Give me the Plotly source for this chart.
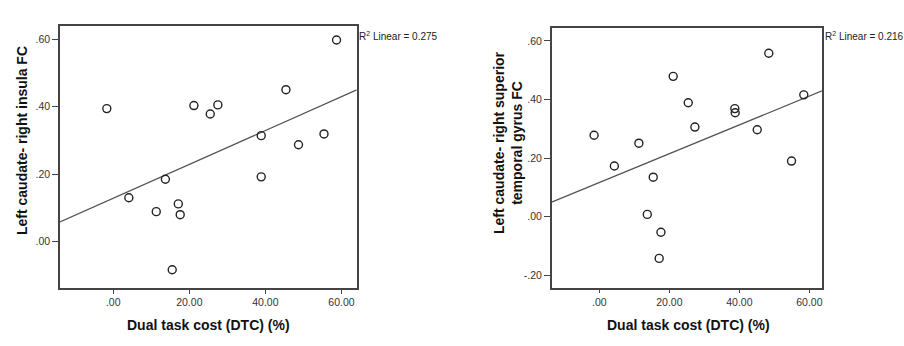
import numpy as np
import plotly.graph_objects as go

# Data
dtc_left = [-1.7, 4.1, 11.3, 13.7, 15.5, 17.1, 17.6, 21.2, 25.5, 27.5, 38.9, 38.9, 45.4, 48.7, 55.4, 58.7]
insula_fc = [0.394, 0.130, 0.089, 0.185, -0.083, 0.112, 0.080, 0.403, 0.378, 0.405, 0.314, 0.192, 0.450, 0.287, 0.319, 0.597]

dtc_right = [-1.5, 4.3, 11.3, 13.7, 15.4, 17.1, 17.6, 21.1, 25.4, 27.3, 38.7, 38.8, 45.1, 48.4, 54.9, 58.4]
stg_fc = [0.278, 0.173, 0.251, 0.008, 0.135, -0.142, -0.053, 0.479, 0.389, 0.306, 0.369, 0.355, 0.297, 0.558, 0.190, 0.416]

x_tickvals = [0, 20, 40, 60]
x_ticktext = [".00", "20.00", "40.00", "60.00"]
yl_tickvals = [0, 0.2, 0.4, 0.6]
yl_ticktext = [".00", ".20", ".40", ".60"]
yr_tickvals = [-0.2, 0, 0.2, 0.4, 0.6]
yr_ticktext = ["-.20", ".00", ".20", ".40", ".60"]

r2_left = "R<sup>2</sup> Linear = 0.275"
r2_right = "R<sup>2</sup> Linear = 0.216"
x_title = "Dual task cost (DTC) (%)"
yl_title = "Left caudate- right insula FC"
yr_title = "Left caudate- right superior<br>temporal gyrus FC"

xl_range = [-14, 64]
xr_range = [-13.6, 63.6]

W, H = 904, 346
FONT = "Liberation Sans, Arial, sans-serif"

fig = go.Figure()

def add_panel(x, y, xa, ya, xrange):
    slope, intercept = np.polyfit(x, y, 1)
    lx = np.array(xrange, dtype=float)
    fig.add_trace(go.Scatter(x=lx, y=slope * lx + intercept, mode="lines",
                             line=dict(color="#555555", width=1.3),
                             xaxis=xa, yaxis=ya, showlegend=False, hoverinfo="skip"))
    fig.add_trace(go.Scatter(x=x, y=y, mode="markers",
                             marker=dict(symbol="circle-open", size=8,
                                         color="#222222", line=dict(width=1.4, color="#222222")),
                             xaxis=xa, yaxis=ya, showlegend=False))

add_panel(dtc_left, insula_fc, "x", "y", xl_range)
add_panel(dtc_right, stg_fc, "x2", "y2", xr_range)

axis_common = dict(showline=True, linecolor="#444444", linewidth=1.5, mirror=True,
                   showgrid=False, zeroline=False, ticks="outside", tickcolor="#444444",
                   tickwidth=1.2, tickfont=dict(family=FONT, size=10.5, color="#333333"))

fig.update_layout(
    width=W, height=H,
    margin=dict(l=0, r=0, t=0, b=0),
    paper_bgcolor="white", plot_bgcolor="white",
    xaxis=dict(domain=[60 / W, 356.7 / W], range=xl_range, anchor="y",
               tickvals=x_tickvals, ticktext=x_ticktext, ticklen=4, **axis_common),
    yaxis=dict(domain=[1 - 288 / H, 1 - 26 / H], range=[-0.137, 0.6385], anchor="x",
               tickvals=yl_tickvals, ticktext=yl_ticktext, ticklen=6, **axis_common),
    xaxis2=dict(domain=[551.7 / W, 822 / W], range=xr_range, anchor="y2",
                tickvals=x_tickvals, ticktext=x_ticktext, ticklen=4, **axis_common),
    yaxis2=dict(domain=[1 - 287.7 / H, 1 - 27.7 / H], range=[-0.242, 0.645], anchor="x2",
                tickvals=yr_tickvals, ticktext=yr_ticktext, ticklen=6, **axis_common),
)

title_font = dict(family=FONT, size=14, color="#111111")
ann = [
    dict(text=x_title, x=208 / W, y=1 - 325 / H, font=title_font),
    dict(text=x_title, x=688 / W, y=1 - 325 / H, font=title_font),
    dict(text=yl_title, x=22 / W, y=1 - 141 / H, textangle=-90, font=title_font),
    dict(text=yr_title, x=508 / W, y=1 - 143 / H, textangle=-90, font=title_font),
    dict(text=r2_left, x=357 / W, y=1 - 35.5 / H, xanchor="left",
         font=dict(family=FONT, size=10, color="#222222")),
    dict(text=r2_right, x=822.5 / W, y=1 - 35.5 / H, xanchor="left",
         font=dict(family=FONT, size=10, color="#222222")),
]
for a in ann:
    a.setdefault("xanchor", "center")
    fig.add_annotation(xref="paper", yref="paper", showarrow=False, yanchor="middle",
                       **{k: v for k, v in a.items()})
# bold titles
for i in range(4):
    fig.layout.annotations[i].text = "<b>" + fig.layout.annotations[i].text.replace("<br>", "</b><br><b>") + "</b>"

fig.write_html("out.html", config={"displayModeBar": False})

# remove default page margin so the figure sits at the window's top-left corner
with open("out.html", "r", encoding="utf-8") as f:
    html = f.read()
html = html.replace("<head>", "<head><style>html,body{margin:0;padding:0;overflow:hidden;}</style>", 1)
with open("out.html", "w", encoding="utf-8") as f:
    f.write(html)
